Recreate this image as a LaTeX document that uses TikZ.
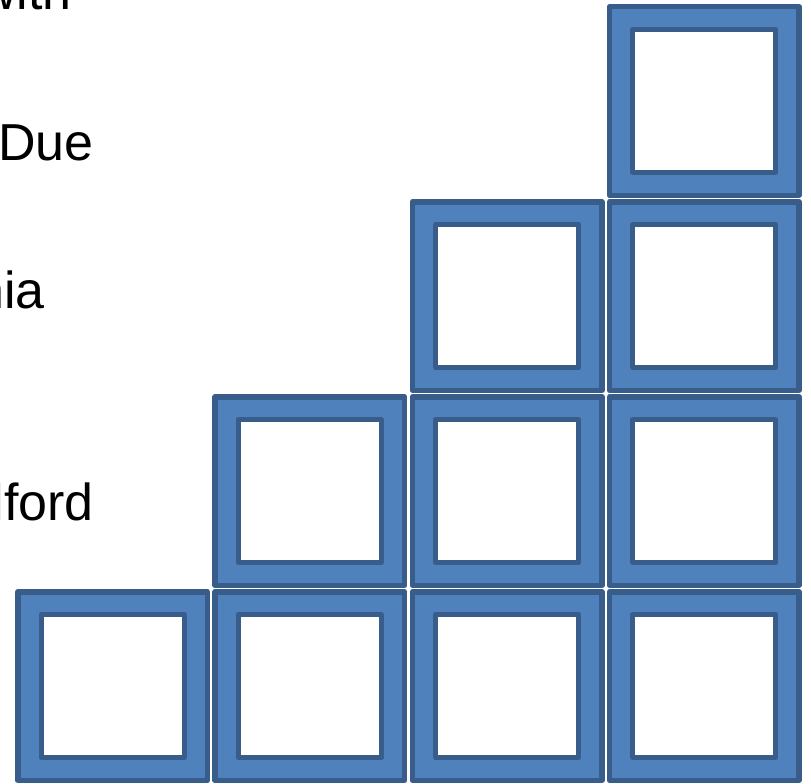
\documentclass[tikz,border=0pt]{standalone}
\usepackage{fontspec}
\setmainfont{Liberation Sans}
\usepackage{xcolor}
\definecolor{blockfill}{HTML}{4F81BD}
\definecolor{blockline}{HTML}{385D8A}

\begin{document}
\begin{tikzpicture}[x=1pt, y=-1pt,
    block/.style={draw=blockline, fill=blockfill, line width=5.5pt, line join=round,
      minimum width=189.5pt, minimum height=188.5pt, inner sep=0pt},
    hole/.style={draw=blockline, fill=white, line width=5pt, line join=round,
      minimum size=143pt, inner sep=0pt},
    word/.style={anchor=base east, inner sep=0pt, font=\fontsize{52}{60}\selectfont}]
  \useasboundingbox (0,0) rectangle (811,784);

  % staircase of blocks, one more per column
  \foreach \col in {0,...,3} {
    \foreach \row in {0,...,\col} {
      \node[block] (b\col\row) at ({112.5+197.3*\col}, {686-195*\row}) {};
      \node[hole] (h\col\row) at (b\col\row) {};
    }
  }

  % words cut off at the left edge
  \node[word] (with) at (72,10) {with};
  \node[word] (due) at (94,160) {Due};
  \node[word] (nia) at (45,308) {nia};
  \node[word] (lford) at (94,520) {lford};
\end{tikzpicture}
\end{document}
